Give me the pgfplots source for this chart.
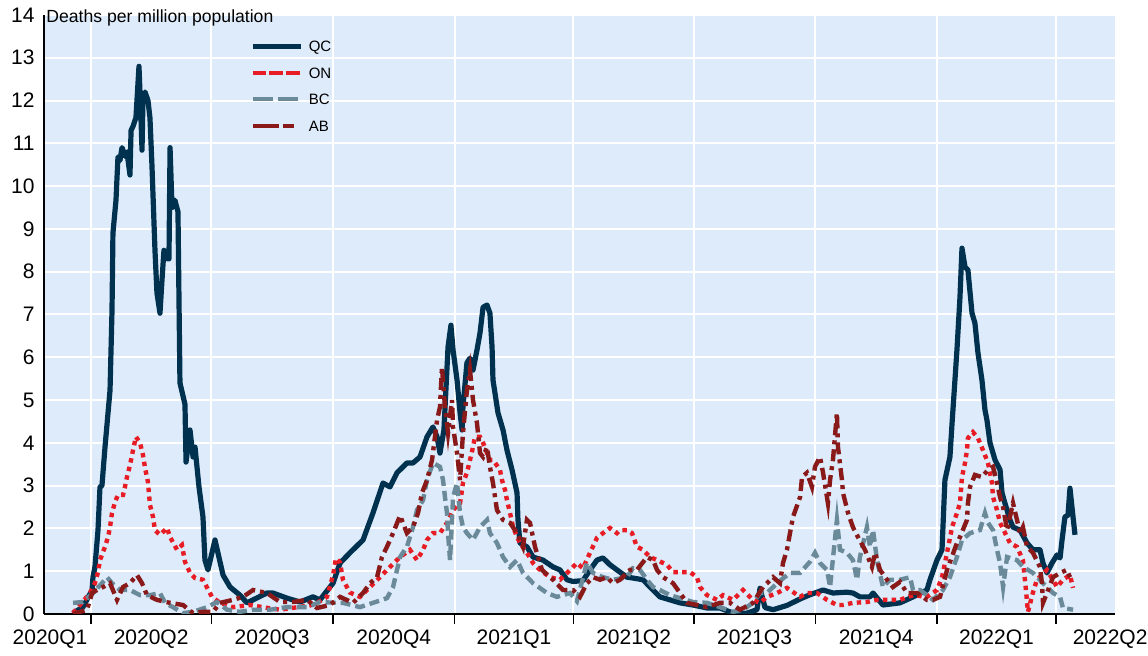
\documentclass[border=0pt]{standalone}
\usepackage{fontspec}
\setmainfont{Liberation Sans}
\usepackage{pgfplots}
\pgfplotsset{compat=1.18}
\definecolor{bgblue}{RGB}{221,235,251}
\definecolor{qc}{RGB}{0,50,80}
\definecolor{on}{RGB}{232,28,36}
\definecolor{bc}{RGB}{106,138,154}
\definecolor{ab}{RGB}{138,26,26}
\begin{document}
\begin{tikzpicture}
\useasboundingbox (-21.75pt,-21pt) rectangle (552.25pt,307pt);
\begin{axis}[
  name=ax, at={(0,0)}, anchor=south west, scale only axis,
  width=535.75pt, height=299.5pt,
  xmin=55.07, xmax=865.66, ymin=0, ymax=14,
  axis x line*=bottom, axis y line*=left,
  axis line style={black, line width=1pt, -},
  axis background/.style={fill=bgblue},
  xtick={60,136.5,228,320,411,501.5,593,685,776,862},
  xticklabels={2020Q1,2020Q2,2020Q3,2020Q4,2021Q1,2021Q2,2021Q3,2021Q4,2022Q1,2022Q2},
  minor xtick={91,182,274,366,456,547,639,731,821},
  ytick={0,1,...,14},
  yticklabels={0,1,2,3,4,5,6,7,8,9,10,11,12,13,14},
  major tick length=0pt, minor tick length=5pt,
  xtick align=outside,
  every tick/.style={black, line width=0.75pt},
  xminorgrids=true, ymajorgrids=true, xmajorgrids=false,
  minor x grid style={white, line width=1pt},
  major y grid style={white, line width=1pt},
  ticklabel style={font=\fontsize{10.5}{12}\selectfont},
  xticklabel style={anchor=north, inner sep=0pt, yshift=-7.5pt},
  yticklabel style={anchor=east, inner sep=0pt, xshift=-4.25pt},
  legend image code/.code={\draw[#1] (0pt,0pt) -- (24pt,0pt);},
  legend style={at={(axis description cs:0.1927,0.957)}, anchor=north west,
    draw=none, fill=none, inner sep=0pt, row sep=8pt, column sep=3pt,
    font=\fontsize{7.5}{8}\selectfont,
    nodes={inner sep=0pt, text height=5.25pt, text depth=0pt}},
  legend cell align=left,
]
% QC
\addplot[qc, line width=2.6pt, line join=round, forget plot] coordinates {
(77.4,0.02)(84.9,0.16)(91.8,0.56)(92.5,0.86)(94.0,1.10)(96.3,1.96)(97.8,2.97)(99.3,3.00)
(101.6,3.90)(105.4,5.23)(106.9,7.10)(107.6,8.90)(109.9,9.67)(111.4,10.68)(112.9,10.60)
(114.5,10.90)(116.7,10.70)(118.2,10.80)(120.5,10.26)(121.3,11.30)(122.8,11.40)(125.0,11.60)
(127.3,12.80)(128.8,11.60)(129.6,10.84)(130.3,12.00)(131.9,12.20)(134.1,12.00)(135.6,11.60)
(137.1,10.50)(139.4,8.50)(140.9,7.50)(143.2,7.03)(144.7,7.80)(146.2,8.50)(148.5,8.30)
(150.0,8.30)(150.8,10.90)(152.3,9.50)(154.5,9.67)(156.8,9.40)(158.3,5.40)(162.1,4.90)
(162.9,3.55)(165.9,4.30)(168.2,3.67)(169.7,3.90)(172.7,2.97)(175.7,2.27)(177.2,1.26)
(179.5,1.03)(184.8,1.73)(190.9,0.91)(196.2,0.63)(203.7,0.44)(209.0,0.26)(224.1,0.49)
(228.7,0.49)(239.3,0.37)(249.1,0.28)(258.9,0.40)(264.2,0.33)(274.1,0.72)(279.4,1.19)
(286.9,1.43)(296.8,1.73)(304.3,2.36)(311.9,3.06)(317.2,2.97)(322.5,3.30)(330.0,3.53)
(334.6,3.53)(339.9,3.67)(345.2,4.14)(349.7,4.37)(352.8,4.14)(355.0,3.76)(358.0,4.30)
(361.1,6.24)(363.3,6.75)(364.9,6.17)(367.9,5.47)(370.2,4.70)(371.7,4.30)(372.4,4.84)
(375.4,5.87)(377.7,5.98)(380.0,5.70)(383.0,6.17)(385.3,6.57)(387.6,7.17)(390.6,7.22)
(392.8,7.03)(394.4,6.24)(395.1,5.47)(398.9,4.70)(402.7,4.30)(405.7,3.83)(409.5,3.37)
(413.3,2.83)(414.0,2.20)(415.5,1.66)(420.8,1.57)(425.4,1.33)(432.9,1.26)(440.5,1.10)
(445.8,1.03)(451.1,0.80)(455.6,0.76)(463.2,0.78)(468.5,1.03)(473.8,1.26)(478.3,1.31)
(483.6,1.15)(488.9,1.03)(496.5,0.86)(501.0,0.84)(508.6,0.80)(516.2,0.56)(521.4,0.40)
(529.0,0.33)(536.6,0.26)(546.4,0.21)(557.0,0.14)(566.8,0.14)(576.7,0.02)(587.3,0.02)
(594.8,0.10)(597.1,0.60)(600.9,0.15)(607.0,0.10)(617.5,0.20)(627.4,0.35)(634.9,0.45)
(644.8,0.56)(652.3,0.49)(662.9,0.51)(667.4,0.49)(672.7,0.40)(680.3,0.40)(682.6,0.49)
(690.1,0.21)(703.0,0.26)(712.9,0.40)(723.4,0.56)(725.7,0.80)(731.0,1.26)(734.8,1.50)
(737.0,3.13)(740.8,3.67)(742.4,4.46)(746.1,6.17)(748.4,7.41)(749.9,8.55)(752.2,8.11)
(754.4,8.04)(757.5,7.03)(759.7,6.80)(762.0,6.10)(765.0,5.47)(767.3,4.77)(768.8,4.53)
(771.1,4.00)(774.9,3.60)(778.7,3.37)(780.2,2.83)(782.4,2.59)(786.2,2.20)(788.5,2.03)
(793.8,1.96)(799.1,1.66)(803.6,1.50)(808.9,1.50)(811.2,1.19)(814.2,0.96)(818.0,1.19)
(821.8,1.38)(824.1,1.31)(825.6,1.73)(827.8,2.27)(830.1,2.31)(831.6,2.94)(833.1,2.50)
(835.4,1.85)
};
% ON
\addplot[on, line width=2.2pt, dash pattern=on 2.2pt off 2.2pt, forget plot] coordinates {
(77.4,0.02)(90.3,0.49)(94.0,0.72)(96.3,0.98)(97.8,1.26)(101.6,1.57)(103.9,1.80)(105.4,2.03)
(106.9,2.36)(109.2,2.62)(111.4,2.78)(115.2,2.78)(116.7,2.97)(118.2,3.20)(120.5,3.48)
(122.8,3.83)(125.0,4.14)(128.1,4.00)(130.3,3.72)(131.9,3.41)(134.1,3.08)(135.6,2.55)
(137.9,2.27)(139.4,1.96)(143.2,1.85)(148.5,2.01)(150.8,1.80)(156.1,1.50)(159.8,1.61)
(162.1,1.22)(165.9,0.96)(169.7,0.84)(175.7,0.80)(182.5,0.40)(188.6,0.26)(198.4,0.16)
(211.3,0.21)(222.6,0.15)(234.0,0.10)(245.3,0.15)(256.7,0.20)(264.2,0.30)(269.5,0.40)
(274.1,0.90)(276.3,1.30)(279.4,1.20)(281.6,0.80)(286.9,0.50)(294.5,0.40)(302.1,0.63)
(309.6,0.86)(317.2,1.10)(324.8,1.33)(332.3,1.50)(337.6,1.26)(342.2,1.50)(345.2,1.73)
(349.7,1.89)(355.0,1.89)(360.3,2.13)(364.9,2.43)(370.2,2.59)(372.4,3.06)(375.4,3.30)
(379.2,3.79)(381.5,4.14)(385.3,4.14)(387.6,4.00)(390.6,3.76)(392.8,3.60)(395.1,3.60)
(400.4,3.37)(401.9,3.13)(404.2,2.90)(405.7,2.66)(408.0,2.36)(410.3,2.03)(413.3,1.80)
(415.5,1.66)(420.8,1.43)(425.4,1.19)(430.7,1.03)(438.2,0.86)(445.8,0.80)(453.4,1.03)
(458.6,1.19)(463.2,1.07)(468.5,1.43)(473.8,1.78)(478.3,1.89)(483.6,2.01)(488.9,1.89)
(491.2,1.96)(496.5,1.96)(500.3,1.89)(504.0,1.57)(508.6,1.50)(513.9,1.33)(519.2,1.26)
(526.7,1.15)(531.3,0.98)(538.8,0.98)(544.1,0.98)(549.4,0.86)(551.7,0.63)(557.0,0.44)
(564.6,0.33)(569.1,0.44)(576.7,0.33)(584.2,0.56)(591.8,0.33)(597.1,0.26)(602.4,0.40)
(610.0,0.49)(617.5,0.61)(627.4,0.40)(632.6,0.49)(640.2,0.49)(647.8,0.33)(655.3,0.21)
(659.9,0.21)(667.4,0.26)(678.0,0.28)(685.6,0.33)(693.2,0.33)(703.0,0.33)(712.9,0.44)
(723.4,0.40)(731.0,0.56)(734.8,0.86)(738.6,1.43)(742.4,2.03)(746.1,2.36)(748.4,2.59)
(749.9,3.20)(752.2,3.53)(753.7,3.83)(754.4,4.11)(758.2,4.25)(762.0,4.11)(765.8,3.83)
(769.6,3.53)(772.6,3.06)(773.4,2.73)(776.4,2.43)(778.7,2.13)(784.0,1.80)(786.2,1.66)
(791.5,1.57)(796.0,1.26)(798.3,0.56)(799.8,0.05)(803.6,0.50)(806.6,0.80)(814.2,1.03)
(821.8,0.63)(826.3,0.80)(831.6,0.91)(833.9,0.61)
};
% BC
\addplot[bc, line width=2.2pt, dash pattern=on 5pt off 2.5pt, forget plot] coordinates {
(77.4,0.26)(84.9,0.28)(92.5,0.49)(99.3,0.72)(103.1,0.86)(106.9,0.72)(112.9,0.56)(120.5,0.56)
(128.1,0.44)(135.6,0.44)(143.2,0.49)(147.0,0.26)(153.0,0.16)(160.6,0.02)(168.2,0.05)
(178.8,0.16)(186.3,0.28)(193.9,0.10)(203.7,0.05)(213.6,0.10)(226.4,0.10)(239.3,0.16)
(254.4,0.16)(264.2,0.28)(277.1,0.26)(281.6,0.26)(294.5,0.16)(304.3,0.26)(314.9,0.37)
(319.5,0.63)(322.5,1.03)(324.8,1.33)(330.0,1.57)(334.6,2.03)(337.6,2.43)(342.2,2.66)
(345.2,3.13)(349.7,3.53)(355.0,3.44)(357.3,3.13)(358.8,2.73)(360.3,2.36)(361.1,1.89)
(362.6,1.26)(364.1,2.20)(364.9,2.73)(367.9,3.06)(370.2,2.36)(372.4,2.03)(375.4,1.89)
(380.0,1.73)(385.3,2.03)(390.6,2.20)(392.8,1.89)(398.1,1.66)(402.7,1.33)(408.0,1.10)
(413.3,1.26)(417.8,0.96)(425.4,0.72)(436.0,0.49)(443.5,0.40)(453.4,0.49)(458.6,0.30)
(466.2,1.20)(470.8,0.96)(478.3,0.86)(485.9,0.80)(496.5,0.86)(501.0,1.07)(506.3,1.03)
(511.6,0.80)(516.2,0.63)(521.4,0.56)(529.0,0.44)(536.6,0.37)(546.4,0.28)(557.0,0.26)
(566.8,0.16)(576.7,0.05)(584.2,0.10)(591.8,0.26)(597.1,0.49)(602.4,0.49)(610.0,0.72)
(619.8,0.96)(627.4,0.96)(634.9,1.22)(638.7,1.43)(642.5,1.19)(647.8,1.03)(650.1,0.63)
(655.3,2.20)(657.6,1.50)(662.9,1.43)(667.4,1.26)(670.5,0.80)(672.7,1.33)(678.0,2.03)
(680.3,1.57)(682.6,1.96)(685.6,1.26)(690.1,0.63)(695.4,0.80)(703.0,0.80)(710.6,0.86)
(712.9,0.56)(718.2,0.56)(728.0,0.33)(735.5,0.56)(740.8,0.86)(746.1,1.33)(749.9,1.73)
(756.0,1.89)(763.5,1.96)(767.3,2.36)(769.6,2.13)(773.4,1.96)(776.4,1.50)(778.7,1.19)
(781.0,0.63)(784.0,1.33)(791.5,1.26)(796.0,1.10)(803.6,0.96)(811.2,0.72)(818.8,0.49)
(824.1,0.40)(826.3,0.14)(833.9,0.10)
};
% AB
\addplot[ab, line width=2.2pt, dash pattern=on 6pt off 2.5pt on 2pt off 2.5pt, forget plot] coordinates {
(77.4,0.00)(88.0,0.10)(91.8,0.49)(95.5,0.56)(100.1,0.63)(105.4,0.72)(110.7,0.33)(115.2,0.63)
(120.5,0.72)(125.8,0.91)(129.6,0.72)(133.4,0.44)(140.9,0.33)(150.8,0.26)(160.6,0.21)
(168.2,0.02)(175.7,0.05)(183.3,0.05)(188.6,0.26)(198.4,0.33)(206.0,0.40)(213.6,0.56)
(224.1,0.49)(234.0,0.28)(243.8,0.28)(254.4,0.33)(262.0,0.14)(271.8,0.21)(279.4,0.40)
(289.2,0.26)(296.8,0.49)(302.1,0.72)(307.4,0.86)(311.1,1.33)(314.9,1.57)(319.5,1.89)
(324.8,2.30)(330.0,1.89)(334.6,2.03)(338.4,2.36)(341.4,2.83)(345.2,3.13)(349.0,3.60)
(352.8,4.53)(355.0,4.84)(356.5,5.77)(358.8,4.84)(361.1,4.23)(364.1,5.00)(364.9,4.37)
(367.9,3.76)(370.2,3.13)(372.4,4.23)(375.4,5.23)(377.7,5.70)(380.0,5.00)(383.0,4.46)
(385.3,3.76)(387.6,3.67)(390.6,3.90)(392.8,3.44)(395.1,3.06)(398.1,2.43)(402.7,2.20)
(408.0,2.13)(413.3,1.89)(417.8,1.57)(420.8,2.20)(423.1,2.13)(426.9,1.57)(432.2,1.03)
(440.5,0.80)(448.1,0.56)(455.6,0.56)(460.9,0.40)(466.2,0.72)(470.8,0.86)(476.1,0.80)
(481.3,0.86)(485.9,0.72)(491.2,0.80)(498.8,1.03)(504.0,1.03)(511.6,1.33)(516.2,1.26)
(519.2,1.03)(523.7,0.86)(531.3,0.72)(536.6,0.49)(541.9,0.26)(549.4,0.21)(557.0,0.16)
(566.8,0.26)(574.4,0.26)(582.0,0.10)(591.8,0.26)(599.4,0.63)(607.0,0.86)(612.2,0.72)
(614.5,1.19)(617.5,1.50)(619.8,1.89)(622.1,2.27)(627.4,2.73)(628.9,3.20)(632.6,3.30)
(636.4,2.97)(638.7,3.44)(642.5,3.67)(644.8,3.30)(648.5,2.59)(650.1,3.13)(652.3,3.60)
(655.3,4.70)(656.1,3.90)(659.1,3.13)(659.9,2.83)(663.7,2.36)(667.4,2.03)(671.2,1.80)
(676.5,1.50)(681.8,1.10)(684.1,1.43)(687.9,1.03)(693.2,0.80)(697.7,0.63)(703.0,0.75)
(708.3,0.49)(715.9,0.49)(723.4,0.33)(728.0,0.33)(733.3,0.40)(738.6,1.03)(746.1,1.66)
(748.4,1.80)(753.7,2.20)(754.4,2.59)(756.0,2.97)(759.7,3.25)(765.0,3.20)(769.6,3.37)
(773.4,3.44)(776.4,3.06)(778.7,2.73)(781.0,2.50)(784.0,1.96)(786.2,2.27)(788.5,2.59)
(791.5,2.20)(793.8,1.89)(796.0,2.03)(799.1,1.57)(803.6,1.43)(808.9,1.10)(810.4,0.72)
(811.2,0.26)(814.2,0.49)(818.8,0.86)(824.1,0.96)(829.3,1.03)(831.6,0.86)
};
\addlegendimage{qc, line width=2.2pt}
\addlegendentry{QC}
\addlegendimage{on, line width=2pt, dash pattern=on 6.7pt off 1.7pt}
\addlegendentry{ON}
\addlegendimage{bc, line width=2pt, dash pattern=on 10pt off 2.5pt}
\addlegendentry{BC}
\addlegendimage{ab, line width=2pt, dash pattern=on 13.3pt off 1.7pt on 5.8pt off 20pt}
\addlegendentry{AB}
\end{axis}
\node[anchor=base west, inner sep=0pt, font=\fontsize{8.8}{10}\selectfont]
  at ([xshift=1.25pt, yshift=-4pt]ax.north west) {Deaths per million population};
\end{tikzpicture}
\end{document}
